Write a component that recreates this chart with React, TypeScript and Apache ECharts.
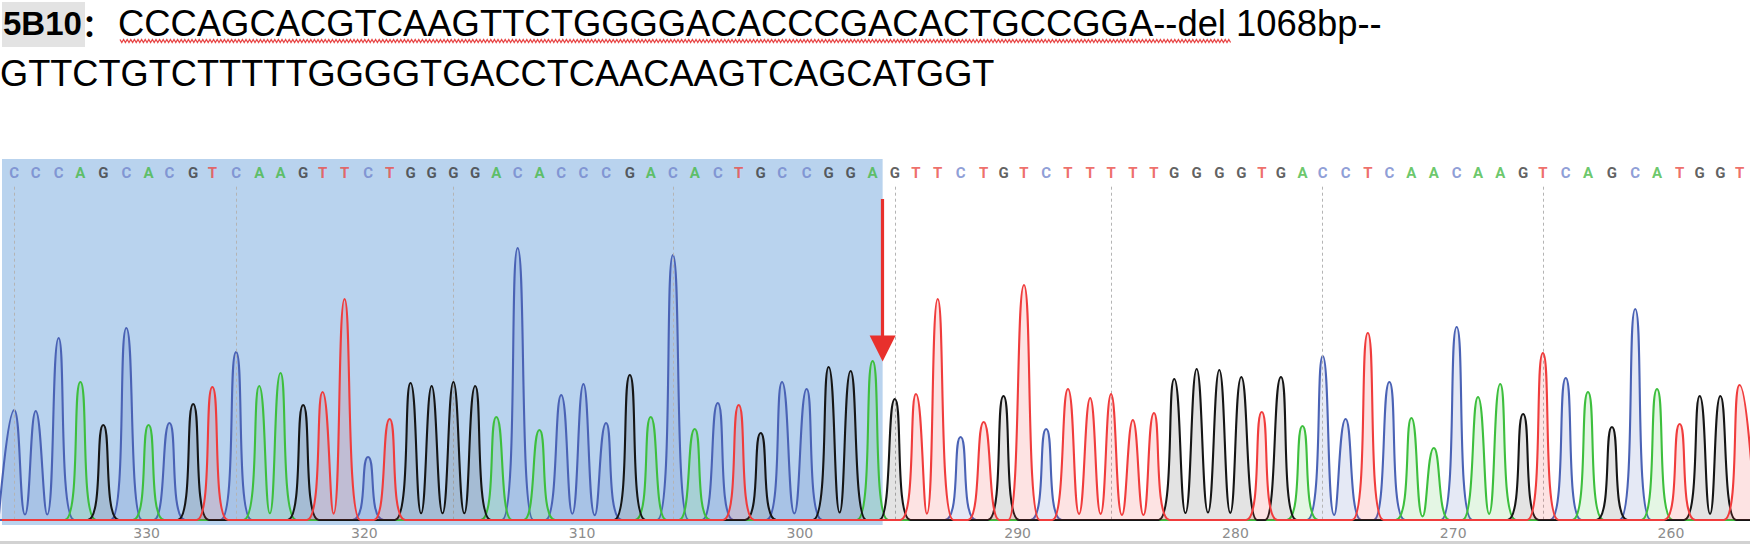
import React, { useEffect, useRef } from "react";
import * as echarts from "echarts";

// ---------- data ----------
const sampleName = "5B10";
const sampleColon = "：";
const seqLine1 = "CCCAGCACGTCAAGTTCTGGGGACACCCGACACTGCCGGA--del 1068bp--";
const seqLine2 = "GTTCTGTCTTTTTGGGGTGACCTCAACAAGTCAGCATGGT";

// base calls shown above the trace (left to right)
const baseCalls = "CCCAGCACGTCAAGTTCTGGGGACACCCGACACTGCCGGAGTTCTGTCTTTTTGGGGTGACCTCAACAAGTCAGCATGGT".split("");

// base positions on the (reversed) position axis
const basePositions = [
  336.08, 335.09, 334.04, 333.04, 331.99, 330.93, 329.91, 328.95, 327.86, 326.98,
  325.89, 324.83, 323.85, 322.81, 321.92, 320.91, 319.83, 318.84, 317.88, 316.91,
  315.91, 314.91, 313.94, 312.96, 311.96, 310.96, 309.94, 308.9, 307.81, 306.85,
  305.83, 304.83, 303.77, 302.81, 301.8, 300.82, 299.69, 298.68, 297.67, 296.66,
  295.64, 294.67, 293.67, 292.62, 291.56, 290.65, 289.71, 288.69, 287.69, 286.67,
  285.71, 284.71, 283.74, 282.81, 281.78, 280.74, 279.73, 278.79, 277.91, 276.92,
  275.99, 274.94, 273.92, 272.93, 271.92, 270.89, 269.84, 268.86, 267.84, 266.79,
  265.88, 264.83, 263.81, 262.71, 261.64, 260.64, 259.6, 258.68, 257.73, 256.85,
];

// peak height of each base call (signal intensity)
const peakHeights = [
  110, 109, 182, 138, 95, 192, 95, 97, 116, 133,
  168, 134, 147, 115, 128, 221, 63, 101, 137, 134,
  138, 134, 103, 272, 90, 125, 136, 97, 145, 103,
  265, 91, 117, 115, 87, 138, 131, 153, 149, 159,
  121, 126, 221, 83, 98, 124, 235, 91, 131, 122,
  126, 100, 107, 141, 151, 150, 143, 108, 143, 94,
  164, 101, 187, 138, 102, 72, 193, 123, 136, 106,
  167, 142, 128, 93, 211, 131, 96, 124, 124, 135,
];

const tickLabels = [330, 320, 310, 300, 290, 280, 270, 260];
const deletionJunction = 296.2; // end of the retained (shaded) sequence
const axisMax = 336.64;
const axisMin = 256.37;
const yMin = -5;
const yMax = 361;
const letterRowLevel = 347.3;
const gridLineTop = 333.3;
const arrowStart = 321;
const arrowEnd = 171.5;

// drawing style of a peak: half-width of its foot (in bases) and depth of valleys
const peakFoot = 0.72;
const valleyRatio = 0.05;

const channels = [
  { base: "C", line: "#4a62b5", letter: "#7285cc" },
  { base: "A", line: "#3dbf3d", letter: "#45b945" },
  { base: "G", line: "#151515", letter: "#383838" },
  { base: "T", line: "#f03c3c", letter: "#ea4a44" },
];

function traceFor(base: string): number[][] {
  const pts: number[][] = [[axisMax, 0]];
  const n = baseCalls.length;
  for (let i = 0; i < n; i++) {
    if (baseCalls[i] !== base) continue;
    const p = basePositions[i];
    const h = peakHeights[i];
    const prevSame = i > 0 && baseCalls[i - 1] === base;
    const nextSame = i < n - 1 && baseCalls[i + 1] === base;
    if (!prevSame) pts.push([p + peakFoot, 0]);
    pts.push([p, h]);
    if (nextSame) {
      const mid = (p + basePositions[i + 1]) / 2;
      pts.push([mid, valleyRatio * Math.min(h, peakHeights[i + 1])]);
    } else {
      pts.push([p - peakFoot, 0]);
    }
  }
  pts.push([axisMin, 0]);
  return pts;
}

function squiggle(x0: number, x1: number, yA: number, yB: number, step: number): number[][] {
  const pts: number[][] = [];
  let k = 0;
  for (let x = x0; x <= x1; x += step) {
    pts.push([x, k % 2 === 0 ? yA : yB]);
    k++;
  }
  return pts;
}

export default function App() {
  const ref = useRef<HTMLDivElement>(null);
  useEffect(() => {
    if (!ref.current) return;
    const chart = echarts.init(ref.current, undefined, { renderer: "svg" });
    const letterColor: Record<string, string> = {};
    channels.forEach((c) => (letterColor[c.base] = c.letter));

    const traceSeries = channels.map((c, idx) => ({
      type: "line",
      name: c.base,
      data: traceFor(c.base),
      smooth: 0.5,
      showSymbol: false,
      symbol: "none",
      z: 3 + idx,
      silent: true,
      lineStyle: { color: c.line, width: 2.1 },
      areaStyle: { color: c.line, opacity: c.base === "G" ? 0.12 : 0.14 },
      clip: true,
    }));

    chart.setOption({
      animation: false,
      backgroundColor: "#ffffff",
      grid: { left: 2, right: 0, top: 159, bottom: 19, containLabel: false },
      xAxis: {
        type: "value",
        inverse: true,
        min: axisMin,
        max: axisMax,
        axisLine: { show: false },
        axisTick: { show: false },
        splitLine: { show: false },
        axisLabel: {
          customValues: tickLabels,
          color: "#8c8c8c",
          fontSize: 14,
          fontFamily: "DejaVu Sans",
          margin: 1,
        },
      },
      yAxis: {
        type: "value",
        min: yMin,
        max: yMax,
        show: false,
        splitLine: { show: false },
      },
      series: [
        {
          type: "scatter",
          z: 2,
          silent: true,
          symbolSize: 0,
          data: baseCalls.map((b, i) => ({
            value: [basePositions[i], letterRowLevel],
            label: { color: letterColor[b] },
          })),
          label: {
            show: true,
            position: "inside",
            formatter: (p: any) => baseCalls[p.dataIndex],
            fontSize: 15,
            fontWeight: "bold",
            fontFamily: "Roboto",
          },
          markArea: {
            silent: true,
            itemStyle: { color: "#b9d3ee" },
            data: [[{ xAxis: axisMax }, { xAxis: deletionJunction }]],
          },
          markLine: {
            silent: true,
            symbol: ["none", "none"],
            label: { show: false },
            lineStyle: { color: "#b4b4b4", type: [3, 3], width: 1 },
            data: basePositions
              .filter((_, i) => i % 10 === 0)
              .map((p) => [{ coord: [p, gridLineTop] }, { coord: [p, 0] }]),
          },
        },
        ...traceSeries,
        {
          type: "line",
          z: 10,
          data: [],
          silent: true,
          markLine: {
            silent: true,
            symbol: ["none", "triangle"],
            symbolSize: 26,
            label: { show: false },
            lineStyle: { color: "#e8302c", type: "solid", width: 3.2, opacity: 1 },
            itemStyle: { color: "#e8302c" },
            data: [[{ coord: [deletionJunction, arrowStart] }, { coord: [deletionJunction, arrowEnd] }]],
          },
        },
      ],
      graphic: [
        { type: "rect", shape: { x: 2, y: 2, width: 83, height: 45 }, style: { fill: "#e3e3e3" }, silent: true },
        {
          type: "text", x: 3, y: 23,
          style: { text: sampleName, font: 'bold 33px "Liberation Sans", Arial, sans-serif', fill: "#000", verticalAlign: "middle" },
        },
        {
          type: "text", x: 82, y: 23,
          style: { text: sampleColon, font: 'bold 30px "Noto Sans CJK SC", sans-serif', fill: "#000", verticalAlign: "middle" },
        },
        {
          type: "text", x: 118, y: 23,
          style: { text: seqLine1, font: '36.4px "Liberation Sans", Arial, sans-serif', fill: "#000", verticalAlign: "middle" },
        },
        {
          type: "polyline",
          shape: { points: squiggle(120, 1232, 39.5, 42.5, 1.8) },
          style: { stroke: "#e84848", lineWidth: 1.3, fill: null },
          silent: true,
        },
        {
          type: "text", x: 0, y: 73.5,
          style: { text: seqLine2, font: '36.2px "Liberation Sans", Arial, sans-serif', fill: "#000", verticalAlign: "middle" },
        },
        { type: "rect", shape: { x: 0, y: 541, width: 1750, height: 3 }, style: { fill: "#d2d2d2" }, silent: true },
      ],
    });
    return () => chart.dispose();
  }, []);
  return (
    <div
      ref={ref}
      style={{ position: "absolute", left: 0, top: 0, width: 1750, height: 544 }}
    />
  );
}
